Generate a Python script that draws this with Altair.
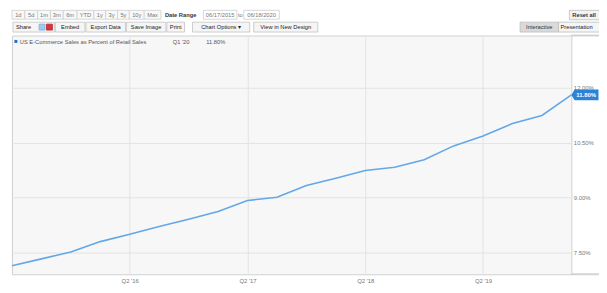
import json
import altair as alt
import pandas as pd

# ---------------- data ----------------
quarters = ["Q2 '15", "Q3 '15", "Q4 '15", "Q1 '16", "Q2 '16", "Q3 '16", "Q4 '16",
            "Q1 '17", "Q2 '17", "Q3 '17", "Q4 '17", "Q1 '18", "Q2 '18", "Q3 '18",
            "Q4 '18", "Q1 '19", "Q2 '19", "Q3 '19", "Q4 '19", "Q1 '20"]
pct = [7.14, 7.33, 7.52, 7.80, 8.00, 8.21, 8.41, 8.62, 8.92, 9.01, 9.33, 9.53,
       9.74, 9.83, 10.03, 10.41, 10.68, 11.02, 11.24, 11.80]
x_tick_idx = [4, 8, 12, 16]
y_ticks = [7.5, 9.0, 10.5, 12.0]
series_name = "US E-Commerce Sales as Percent of Retail Sales"

range_buttons = ["1d", "5d", "1m", "3m", "6m", "YTD", "1y", "3y", "5y", "10y", "Max"]
date_from, date_to = "06/17/2015", "06/18/2020"
tool_buttons = ["Embed", "Export Data", "Save Image", "Print", "Chart Options  \u25be", "View in New Design"]

df = pd.DataFrame({"idx": list(range(len(quarters))), "quarter": quarters, "pct": pct})

FONT = "Liberation Sans"
W, H = 567, 242
OX, OY = 12, 34  # page position of plot origin

# ---------------- main chart ----------------
x_enc = alt.X("idx:Q",
              scale=alt.Scale(domain=[0, len(quarters) - 1], nice=False, zero=False),
              axis=alt.Axis(values=x_tick_idx, labelExpr=json.dumps(quarters) + "[datum.value]",
                            title=None, ticks=False, domain=False, grid=True,
                            gridColor="#e3e3e3", labelFontSize=6, labelColor="#777",
                            labelPadding=3, labelFont=FONT))
y_enc = alt.Y("pct:Q",
              scale=alt.Scale(domain=[6.91, 13.42], nice=False, zero=False),
              axis=alt.Axis(orient="right", values=y_ticks,
                            labelExpr="format(datum.value, '.2f') + '%'",
                            title=None, ticks=False, domain=False, grid=True,
                            gridColor="#e3e3e3", labelFontSize=6, labelColor="#777",
                            labelPadding=2, labelFont=FONT))

base = alt.Chart(df).encode(x=x_enc, y=y_enc)
line = base.mark_line(color="#63a7e8", strokeWidth=1.6)

last_idx = len(quarters) - 1
TAG = "M0,0L0.3,-0.5L2.5,-0.5L2.5,0.5L0.3,0.5Z"
tag = base.mark_point(shape=TAG, size=484, filled=True, fill="#2c82d6",
                      opacity=1, strokeOpacity=0).transform_filter(f"datum.idx == {last_idx}")
tag_text = base.mark_text(dx=15, color="white", fontSize=6, fontWeight="bold",
                          font=FONT, align="center", baseline="middle").encode(
    text="lbl:N").transform_filter(f"datum.idx == {last_idx}").transform_calculate(
    lbl="format(datum.pct, '.2f') + '%'")

leg_df = pd.DataFrame({"name": [series_name], "q": [quarters[-1]],
                       "v": [f"{pct[-1]:.2f}%"]})
leg = alt.Chart(leg_df)
leg_sq = leg.mark_rect(color="#1f6fd0").encode(
    x=alt.value(2.5), x2=alt.value(5.5), y=alt.value(4.5), y2=alt.value(7.5))
leg_name = leg.mark_text(align="left", baseline="middle", fontSize=5.8, font=FONT,
                         color="#555").encode(x=alt.value(8), y=alt.value(6.2), text="name:N")
leg_q = leg.mark_text(align="left", baseline="middle", fontSize=5.8, font=FONT,
                      color="#555").encode(x=alt.value(163), y=alt.value(6.2), text="q:N")
leg_v = leg.mark_text(align="left", baseline="middle", fontSize=5.8, font=FONT,
                      color="#555").encode(x=alt.value(197), y=alt.value(6.2), text="v:N")

main = alt.layer(line, tag, tag_text, leg_sq, leg_name, leg_q, leg_v)

# ---------------- toolbar chrome (page layout) ----------------
r1 = (8.5, 17.5)
r2 = (20.5, 30.5)
r1_x = [(12, 25), (25, 38), (38, 51), (51, 64), (64, 78), (78, 95), (95, 107),
        (107, 119), (119, 131), (131, 146), (146, 163)]
rects, tc, tl, tb = [], [], [], []
for lab, (a, b) in zip(range_buttons, r1_x):
    rects.append((a, b, r1[0], r1[1], "#f8f8f8", "#cfcfcf"))
    tc.append((lab, (a + b) / 2, sum(r1) / 2, "#777"))
tb.append(("Date Range", 167, sum(r1) / 2, "#333"))
rects.append((206, 240, r1[0], r1[1], "#ffffff", "#cccccc"))
tc.append((date_from, 223, sum(r1) / 2, "#777"))
tc.append(("to", 243.5, sum(r1) / 2, "#777"))
rects.append((247, 283, r1[0], r1[1], "#ffffff", "#cccccc"))
tc.append((date_to, 265, sum(r1) / 2, "#777"))
rects.append((577, 615, r1[0], r1[1] + 0.5, "#f3f3f3", "#bdbdbd"))
tb.append(("Reset all", 580, sum(r1) / 2 + 0.2, "#333"))

rects.append((13, 55, r2[0], r2[1], "#f5f5f5", "#c2c2c2"))
tl.append(("Share", 16, sum(r2) / 2, "#222"))
rects.append((39.5, 45.5, 22.5, 28.5, "#9fc9ef", "#7fb0e0"))
rects.append((47, 53, 22.5, 28.5, "#d7343f", "#b52a33"))
r2_x = [(56, 86), (87, 127), (128, 168), (169, 187), (195, 253), (257, 322)]
for lab, (a, b) in zip(tool_buttons, r2_x):
    rects.append((a, b, r2[0], r2[1], "#f5f5f5", "#c2c2c2"))
    tc.append((lab, (a + b) / 2, sum(r2) / 2, "#222"))
rects.append((527, 566, r2[0], r2[1], "#dadada", "#bdbdbd"))
tc.append(("Interactive", 546.5, sum(r2) / 2, "#333"))
rects.append((566, 615, r2[0], r2[1], "#f5f5f5", "#bdbdbd"))
tl.append(("Presentation", 568, sum(r2) / 2, "#222"))
# frame lines continuing right of plot
rects.append((579, 615, 33.5, 34.5, "#cfcfcf", "#cfcfcf"))
rects.append((579, 615, 275.5, 276.5, "#cfcfcf", "#cfcfcf"))

rdf = pd.DataFrame(rects, columns=["x0", "x1", "y0", "y1", "fill", "stroke"])
rdf["x0"] -= OX; rdf["x1"] -= OX; rdf["y0"] -= OY; rdf["y1"] -= OY


def tdf(rows):
    d = pd.DataFrame(rows, columns=["t", "x", "y", "c"])
    d["x"] -= OX; d["y"] -= OY
    return d


ui_rect = alt.Chart(rdf).mark_rect(strokeWidth=0.8).encode(
    x=alt.X("x0:Q", scale=None, axis=None), x2="x1:Q",
    y=alt.Y("y0:Q", scale=None, axis=None), y2="y1:Q",
    fill=alt.Fill("fill:N", scale=None), stroke=alt.Stroke("stroke:N", scale=None))


def ui_text(rows, align, weight="normal"):
    return alt.Chart(tdf(rows)).mark_text(align=align, baseline="middle", fontSize=5.8,
                                          font=FONT, fontWeight=weight).encode(
        x=alt.X("x:Q", scale=None, axis=None), y=alt.Y("y:Q", scale=None, axis=None),
        text="t:N", color=alt.Color("c:N", scale=None))


ui = alt.layer(ui_rect, ui_text(tc, "center"), ui_text(tl, "left"), ui_text(tb, "left", "bold"))

chart = alt.layer(main, ui).resolve_scale(x="independent", y="independent").properties(
    width=W, height=H,
    autosize=alt.AutoSizeParams(type="none"),
    padding={"left": 4, "top": 26, "right": 28, "bottom": 9},
    background="white",
).configure_view(fill="#f7f7f7", stroke="#cfcfcf", strokeWidth=1)

chart.save("out.html", embed_options={"renderer": "svg", "actions": False})
